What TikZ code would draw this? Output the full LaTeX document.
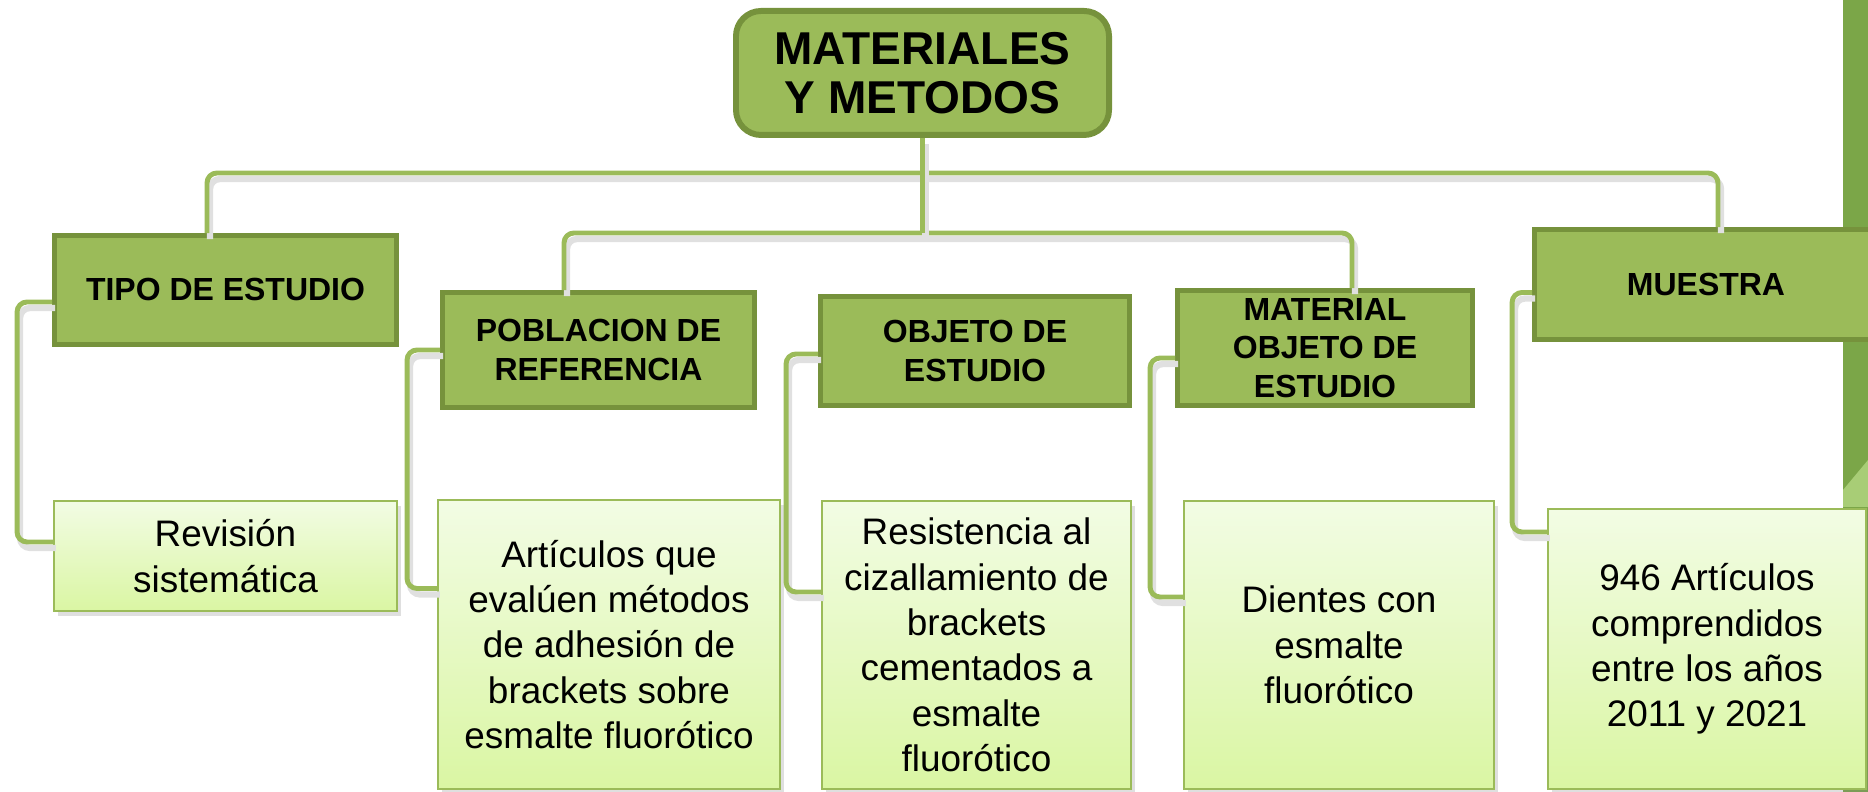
\documentclass[tikz,border=0pt]{standalone}
\usepackage{fontspec}
\setmainfont{Liberation Sans}
\usepackage{tikz}
\usetikzlibrary{shadows}

\definecolor{verde}{RGB}{155,187,89}
\definecolor{verdeosc}{RGB}{118,146,60}
\definecolor{verdefondo}{RGB}{123,166,72}
\definecolor{verdepalido}{RGB}{168,205,118}
\definecolor{claroarriba}{RGB}{242,252,228}
\definecolor{claroabajo}{RGB}{218,246,163}

\begin{document}
\begin{tikzpicture}[
	raiz/.style={rectangle, rounded corners=2.5mm, draw=verdeosc, line width=1.7pt, fill=verde,
		font=\bfseries\fontsize{13.1}{14.1}\selectfont, align=center, inner sep=0pt},
	cabecera/.style={rectangle, draw=verdeosc, line width=1.4pt, fill=verde,
		font=\bfseries\fontsize{9.1}{10.95}\selectfont, align=center, inner sep=0pt},
	contenido/.style={rectangle, draw=verde, line width=0.7pt, top color=claroarriba, bottom color=claroabajo,
		drop shadow={opacity=0.25, shadow xshift=0.4mm, shadow yshift=-0.5mm},
		font=\fontsize{10.5}{12.9}\selectfont, align=center, inner sep=0pt},
	linea/.style={draw=verde, line width=1.4pt, rounded corners=1mm,
		preaction={draw=black!12, line width=1.8pt, transform canvas={shift={(0.3mm,-0.6mm)}}}}
	]
	
		% Fondo
		\useasboundingbox (0,0) rectangle (18.68,7.92);
		\clip (0,0) rectangle (18.68,7.92);
		\fill[verdefondo] (18.43,0) rectangle (18.68,7.92);
		\fill[verdepalido] (18.43,2.85) -- (18.43,3.02) -- (18.68,3.32) -- (18.68,2.85) -- cycle;
		
		% Cabeceras
		\node[raiz, minimum width=3.73cm, minimum height=1.24cm] (titulo) at (9.225,7.19) {MATERIALES\\Y METODOS};
		
		\node[cabecera, minimum width=3.42cm, minimum height=1.09cm] (tipo) at (2.255,5.02) {TIPO DE ESTUDIO};
		\node[cabecera, minimum width=3.12cm, minimum height=1.15cm] (poblacion) at (5.985,4.42) {POBLACION DE\\REFERENCIA};
		\node[cabecera, minimum width=3.09cm, minimum height=1.09cm] (objeto) at (9.75,4.41) {OBJETO DE\\ESTUDIO};
		\node[cabecera, minimum width=2.95cm, minimum height=1.15cm] (material) at (13.25,4.44) {MATERIAL\\OBJETO DE\\ESTUDIO};
		\node[cabecera, minimum width=3.43cm, minimum height=1.10cm] (muestra) at (17.06,5.075) {MUESTRA};
		
		% Contenidos
		\node[contenido, minimum width=3.43cm, minimum height=1.10cm] (revision) at (2.255,2.36) {Revisión\\sistemática};
		\node[contenido, minimum width=3.42cm, minimum height=2.89cm] (articulos) at (6.09,1.475)
			{Artículos que\\evalúen métodos\\de adhesión de\\brackets sobre\\esmalte fluorótico};
		\node[contenido, minimum width=3.09cm, minimum height=2.88cm] (resistencia) at (9.765,1.47)
			{Resistencia al\\cizallamiento de\\brackets\\cementados a\\esmalte\\fluorótico};
		\node[contenido, minimum width=3.10cm, minimum height=2.88cm] (dientes) at (13.39,1.47)
			{Dientes con\\esmalte\\fluorótico};
		\node[contenido, minimum width=3.18cm, minimum height=2.80cm] (numero) at (17.07,1.43)
			{946 Artículos\\comprendidos\\entre los años\\2011 y 2021};
		
		% Lineas
		\coordinate (izq) at (2.07,6.19);
		\coordinate (der) at (17.18,6.19);
		\coordinate (b1) at (5.64,5.59);
		\coordinate (b2) at (13.52,5.59);
		
		\draw[linea] (tipo.north -| izq) -- (izq) -- (der) -- (muestra.north -| der);
		\draw[linea] (poblacion.north -| b1) -- (b1) -- (b2) -- (material.north -| b2);
		\draw[linea] (titulo.south) -- (titulo.south |- b1);
		
		\draw[linea] ([yshift=-1.2mm]tipo.west) -- ++(-0.35,0) |- ([yshift=1.4mm]revision.west);
		\draw[linea] (poblacion.west) -- ++(-0.33,0) |- ([yshift=5.6mm]articulos.west);
		\draw[linea] ([yshift=-0.3mm]objeto.west) -- ++(-0.32,0) |- ([yshift=5.3mm]resistencia.west);
		\draw[linea] ([yshift=-1mm]material.west) -- ++(-0.25,0) |- ([yshift=4.8mm]dientes.west);
		\draw[linea] ([yshift=-0.8mm]muestra.west) -- ++(-0.20,0) |- ([yshift=11.7mm]numero.west);

	\end{tikzpicture}
\end{document}
